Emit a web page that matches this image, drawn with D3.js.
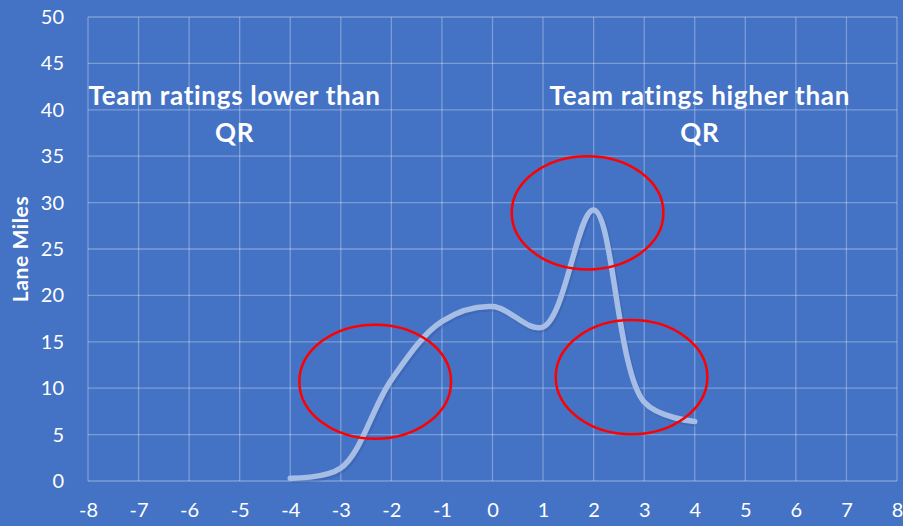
<!DOCTYPE html>
<html>
<head>
<meta charset="utf-8">
<script src="https://cdn.jsdelivr.net/npm/d3@7"></script>
<style>
  html, body { margin: 0; padding: 0; background: #4472c4; }
  svg { display: block; font-family: Lato, "Open Sans", sans-serif; }
</style>
</head>
<body>
<svg></svg>
<script>
let width = 903, height = 526;

// curve data (rating difference vs lane miles)
let ratingDiff = [-4, -3, -2, -1, 0, 1, 2, 3, 4];
let laneMiles = [0.3, 1.4, 10.9, 17.2, 18.8, 16.6, 29.2, 8.5, 6.4];

let xTicks = d3.range(-8, 9, 1);
let yTicks = d3.range(0, 51, 5);

// red ellipse call-outs, in data units
let circleX = [-2.32, 1.88, 2.75];
let circleY = [10.7, 28.9, 11.2];
let circleRx = [1.5, 1.5, 1.5];
let circleRy = [6.15, 6.1, 6.15];

// annotation labels
let noteLines = [["Team ratings lower than", "QR"], ["Team ratings higher than", "QR"]];
let noteX = [-5.1, 4.1];

let svg = d3.select("svg")
    .attr("width", width)
    .attr("height", height);

svg.append("rect")
    .attr("width", width)
    .attr("height", height)
    .attr("fill", "#4472c4");

let x = d3.scaleLinear().domain([-8, 8]).range([88, 897]);
let y = d3.scaleLinear().domain([0, 50]).range([481, 17]);

//Gridlines
let grid = svg.append("g").attr("stroke", "#ffffff").attr("stroke-opacity", 0.3).attr("stroke-width", 1.3);
grid.selectAll("line.v")
    .data(xTicks)
    .enter()
    .append("line")
    .attr("x1", d => x(d)).attr("x2", d => x(d))
    .attr("y1", y(0)).attr("y2", y(50));
grid.selectAll("line.h")
    .data(yTicks)
    .enter()
    .append("line")
    .attr("y1", d => y(d)).attr("y2", d => y(d))
    .attr("x1", x(-8)).attr("x2", x(8));

//Axes (labels only)
let xAxis = svg.append("g")
    .attr("transform", `translate(0,${y(0)})`)
    .call(d3.axisBottom(x).tickValues(xTicks).tickSize(0).tickPadding(22).tickFormat(d3.format("d")));
let yAxis = svg.append("g")
    .attr("transform", `translate(${x(-8)},0)`)
    .call(d3.axisLeft(y).tickValues(yTicks).tickSize(0).tickPadding(24));
[xAxis, yAxis].forEach(a => {
    a.select(".domain").remove();
    a.selectAll("text")
        .attr("fill", "#ffffff")
        .style("font-family", "Lato, sans-serif")
        .style("font-size", "20px");
});
xAxis.selectAll("text").text(d => d < 0 ? "-" + Math.abs(d) : d);

svg.append("text")
    .attr("transform", `translate(28,${(y(0) + y(50)) / 2}) rotate(-90)`)
    .attr("text-anchor", "middle")
    .attr("fill", "#ffffff")
    .style("font-weight", "bold")
    .style("font-size", "21px")
    .style("letter-spacing", "0.6px")
    .text("Lane Miles");

//Annotations
noteLines.forEach((lines, i) => {
    lines.forEach((t, j) => {
        svg.append("text")
            .attr("x", x(noteX[i]))
            .attr("y", y(40.5 - j * 4))
            .attr("text-anchor", "middle")
            .attr("fill", "#ffffff")
            .style("font-weight", "bold")
            .style("font-size", "26px")
            .style("letter-spacing", "0.7px")
            .text(t);
    });
});

//Curve
let pts = ratingDiff.map((d, i) => [d, laneMiles[i]]);
let line = d3.line()
    .x(d => x(d[0]))
    .y(d => y(d[1]))
    .curve(d3.curveCatmullRom.alpha(0.5));

svg.append("path")
    .datum(pts)
    .attr("d", line)
    .attr("fill", "none")
    .attr("stroke", "#2f4f8a")
    .attr("stroke-opacity", 0.25)
    .attr("stroke-width", 6)
    .attr("transform", "translate(1.5,2)");
svg.append("path")
    .datum(pts)
    .attr("d", line)
    .attr("fill", "none")
    .attr("stroke", "#a6bde6")
    .attr("stroke-width", 5.5)
    .attr("stroke-linecap", "round");

//Red ellipses
svg.append("g")
    .selectAll("ellipse")
    .data(circleX)
    .enter()
    .append("ellipse")
    .attr("cx", d => x(d))
    .attr("cy", (d, i) => y(circleY[i]))
    .attr("rx", (d, i) => x(circleRx[i]) - x(0))
    .attr("ry", (d, i) => y(0) - y(circleRy[i]))
    .attr("fill", "none")
    .attr("stroke", "#ff0000")
    .attr("stroke-width", 2.5);
</script>
</body>
</html>
